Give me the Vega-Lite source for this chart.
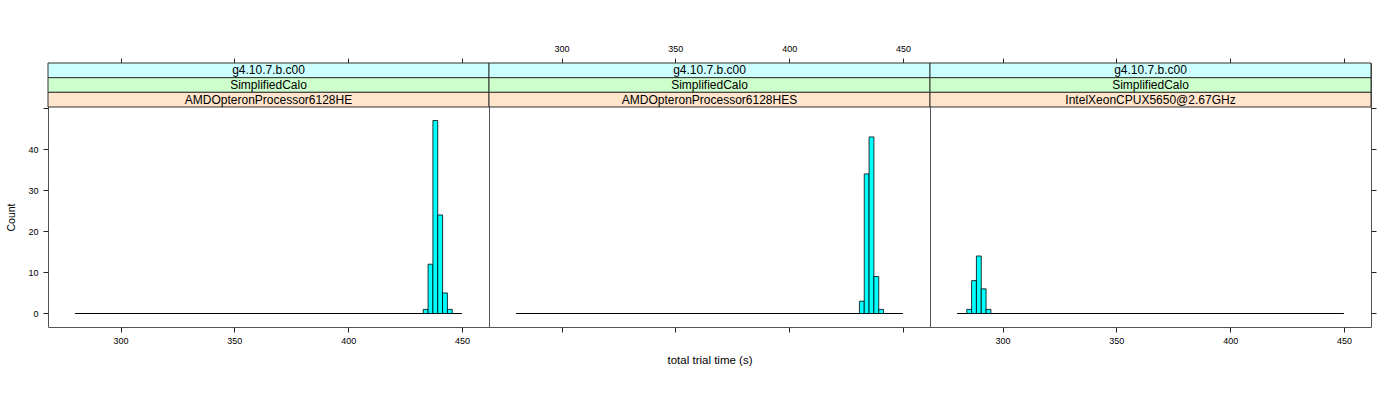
{
  "$schema": "https://vega.github.io/schema/vega-lite/v6.json",
  "padding": {"left": 6, "top": 43, "right": 5, "bottom": 5},
  "background": "white",
  "config": {
    "view": {"stroke": "#555", "strokeWidth": 1},
    "font": "Liberation Sans",
    "axis": {"domain": false, "grid": false, "tickColor": "#222", "tickSize": 5, "labelFont": "Liberation Sans", "labelFontSize": 9, "labelColor": "black", "titleFont": "Liberation Sans", "titleFontWeight": "normal", "titleColor": "black"}
  },
  "datasets": {
    "bins": [
      {"panel": "p1", "start": 433.0, "end": 435.125, "count": 1},
      {"panel": "p1", "start": 435.125, "end": 437.25, "count": 12},
      {"panel": "p1", "start": 437.25, "end": 439.375, "count": 47},
      {"panel": "p1", "start": 439.375, "end": 441.5, "count": 24},
      {"panel": "p1", "start": 441.5, "end": 443.625, "count": 5},
      {"panel": "p1", "start": 443.625, "end": 445.75, "count": 1},
      {"panel": "p2", "start": 430.875, "end": 433.0, "count": 3},
      {"panel": "p2", "start": 433.0, "end": 435.125, "count": 34},
      {"panel": "p2", "start": 435.125, "end": 437.25, "count": 43},
      {"panel": "p2", "start": 437.25, "end": 439.375, "count": 9},
      {"panel": "p2", "start": 439.375, "end": 441.5, "count": 1},
      {"panel": "p3", "start": 284.25, "end": 286.375, "count": 1},
      {"panel": "p3", "start": 286.375, "end": 288.5, "count": 8},
      {"panel": "p3", "start": 288.5, "end": 290.625, "count": 14},
      {"panel": "p3", "start": 290.625, "end": 292.75, "count": 6},
      {"panel": "p3", "start": 292.75, "end": 294.875, "count": 1}
    ],
    "baseline": [
      {"panel": "p1", "xmin": 280, "xmax": 450, "count": 0},
      {"panel": "p2", "xmin": 280, "xmax": 450, "count": 0},
      {"panel": "p3", "xmin": 280, "xmax": 450, "count": 0}
    ],
    "strips": [
      {"panel": "p1", "level": "version", "label": "g4.10.7.b.c00"},
      {"panel": "p1", "level": "test", "label": "SimplifiedCalo"},
      {"panel": "p1", "level": "cpu", "label": "AMDOpteronProcessor6128HE"},
      {"panel": "p2", "level": "version", "label": "g4.10.7.b.c00"},
      {"panel": "p2", "level": "test", "label": "SimplifiedCalo"},
      {"panel": "p2", "level": "cpu", "label": "AMDOpteronProcessor6128HES"},
      {"panel": "p3", "level": "version", "label": "g4.10.7.b.c00"},
      {"panel": "p3", "level": "test", "label": "SimplifiedCalo"},
      {"panel": "p3", "level": "cpu", "label": "IntelXeonCPUX5650@2.67GHz"}
    ]
  },
  "hconcat": [
    {
      "width": 441, "height": 264,
      "layer": [
        {"data": {"name": "strips"}, "transform": [{"filter": "datum.panel == 'p1'"}],
         "mark": {"type": "rect", "stroke": "#333", "strokeWidth": 1},
         "encoding": {
           "y": {"field": "level", "type": "nominal", "sort": ["version", "test", "cpu"], "scale": {"domain": ["version", "test", "cpu"], "range": [0, 44], "paddingInner": 0, "paddingOuter": 0}, "axis": null},
           "fill": {"field": "level", "type": "nominal", "scale": {"domain": ["version", "test", "cpu"], "range": ["#CCFFFF", "#CCFFCC", "#FFE5CC"]}, "legend": null}
         }},
        {"data": {"name": "strips"}, "transform": [{"filter": "datum.panel == 'p1'"}],
         "mark": {"type": "text", "fontSize": 12, "baseline": "middle", "align": "center", "color": "black"},
         "encoding": {
           "y": {"field": "level", "type": "nominal", "sort": ["version", "test", "cpu"], "scale": {"domain": ["version", "test", "cpu"], "range": [0, 44], "paddingInner": 0, "paddingOuter": 0}, "axis": null},
           "text": {"field": "label"}
         }},
        {"data": {"name": "baseline"}, "transform": [{"filter": "datum.panel == 'p1'"}],
         "mark": {"type": "rule", "opacity": 0},
         "encoding": {
           "x": {"field": "xmin", "type": "quantitative", "scale": {"domain": [268.1, 461.9], "nice": false, "zero": false},
                 "axis": {"orient": "top", "values": [300, 350, 400, 450], "labels": false, "title": null}}
         }},
        {"data": {"name": "baseline"}, "transform": [{"filter": "datum.panel == 'p1'"}],
         "mark": {"type": "rule", "color": "black", "strokeWidth": 1.2},
         "encoding": {
           "x": {"field": "xmin", "type": "quantitative", "scale": {"domain": [268.1, 461.9], "nice": false, "zero": false},
                 "axis": {"orient": "bottom", "values": [300, 350, 400, 450], "labelPadding": 4, "title": null}},
           "x2": {"field": "xmax"},
           "y": {"field": "count", "type": "quantitative", "scale": {"domain": [-3.29, 50.29], "range": [264, 44], "nice": false, "zero": false},
                 "axis": {"orient": "left", "values": [0, 10, 20, 30, 40, 50], "labelExpr": "datum.value < 45 ? datum.label : ''", "labelPadding": 5, "title": "Count", "titleFontSize": 10.5, "titlePadding": 11}}
         }},
        {"data": {"name": "bins"}, "transform": [{"filter": "datum.panel == 'p1'"}],
         "mark": {"type": "rect", "fill": "#00FFFF", "stroke": "black", "strokeWidth": 0.8},
         "encoding": {
           "x": {"field": "start", "type": "quantitative", "scale": {"domain": [268.1, 461.9], "nice": false, "zero": false}, "axis": null},
           "x2": {"field": "end"},
           "y": {"field": "count", "type": "quantitative", "scale": {"domain": [-3.29, 50.29], "range": [264, 44], "nice": false, "zero": false}, "axis": null},
           "y2": {"datum": 0}
         }}
      ],
      "resolve": {"scale": {"y": "independent"}, "axis": {"x": "independent", "y": "independent"}}
    },
    {
      "width": 441, "height": 264,
      "layer": [
        {"data": {"name": "strips"}, "transform": [{"filter": "datum.panel == 'p2'"}],
         "mark": {"type": "rect", "stroke": "#333", "strokeWidth": 1},
         "encoding": {
           "y": {"field": "level", "type": "nominal", "sort": ["version", "test", "cpu"], "scale": {"domain": ["version", "test", "cpu"], "range": [0, 44], "paddingInner": 0, "paddingOuter": 0}, "axis": null},
           "fill": {"field": "level", "type": "nominal", "scale": {"domain": ["version", "test", "cpu"], "range": ["#CCFFFF", "#CCFFCC", "#FFE5CC"]}, "legend": null}
         }},
        {"data": {"name": "strips"}, "transform": [{"filter": "datum.panel == 'p2'"}],
         "mark": {"type": "text", "fontSize": 12, "baseline": "middle", "align": "center", "color": "black"},
         "encoding": {
           "y": {"field": "level", "type": "nominal", "sort": ["version", "test", "cpu"], "scale": {"domain": ["version", "test", "cpu"], "range": [0, 44], "paddingInner": 0, "paddingOuter": 0}, "axis": null},
           "text": {"field": "label"}
         }},
        {"data": {"name": "baseline"}, "transform": [{"filter": "datum.panel == 'p2'"}],
         "mark": {"type": "rule", "opacity": 0},
         "encoding": {
           "x": {"field": "xmin", "type": "quantitative", "scale": {"domain": [268.1, 461.9], "nice": false, "zero": false},
                 "axis": {"orient": "top", "values": [300, 350, 400, 450], "labelPadding": 5, "title": null}}
         }},
        {"data": {"name": "baseline"}, "transform": [{"filter": "datum.panel == 'p2'"}],
         "mark": {"type": "rule", "color": "black", "strokeWidth": 1.2},
         "encoding": {
           "x": {"field": "xmin", "type": "quantitative", "scale": {"domain": [268.1, 461.9], "nice": false, "zero": false},
                 "axis": {"orient": "bottom", "values": [300, 350, 400, 450], "labels": false, "title": "total trial time (s)", "titleFontSize": 11.5, "titlePadding": 22}},
           "x2": {"field": "xmax"},
           "y": {"field": "count", "type": "quantitative", "scale": {"domain": [-3.29, 50.29], "range": [264, 44], "nice": false, "zero": false}, "axis": null}
         }},
        {"data": {"name": "bins"}, "transform": [{"filter": "datum.panel == 'p2'"}],
         "mark": {"type": "rect", "fill": "#00FFFF", "stroke": "black", "strokeWidth": 0.8},
         "encoding": {
           "x": {"field": "start", "type": "quantitative", "scale": {"domain": [268.1, 461.9], "nice": false, "zero": false}, "axis": null},
           "x2": {"field": "end"},
           "y": {"field": "count", "type": "quantitative", "scale": {"domain": [-3.29, 50.29], "range": [264, 44], "nice": false, "zero": false}, "axis": null},
           "y2": {"datum": 0}
         }}
      ],
      "resolve": {"scale": {"y": "independent"}, "axis": {"x": "independent", "y": "independent"}}
    },
    {
      "width": 441, "height": 264,
      "layer": [
        {"data": {"name": "strips"}, "transform": [{"filter": "datum.panel == 'p3'"}],
         "mark": {"type": "rect", "stroke": "#333", "strokeWidth": 1},
         "encoding": {
           "y": {"field": "level", "type": "nominal", "sort": ["version", "test", "cpu"], "scale": {"domain": ["version", "test", "cpu"], "range": [0, 44], "paddingInner": 0, "paddingOuter": 0}, "axis": null},
           "fill": {"field": "level", "type": "nominal", "scale": {"domain": ["version", "test", "cpu"], "range": ["#CCFFFF", "#CCFFCC", "#FFE5CC"]}, "legend": null}
         }},
        {"data": {"name": "strips"}, "transform": [{"filter": "datum.panel == 'p3'"}],
         "mark": {"type": "text", "fontSize": 12, "baseline": "middle", "align": "center", "color": "black"},
         "encoding": {
           "y": {"field": "level", "type": "nominal", "sort": ["version", "test", "cpu"], "scale": {"domain": ["version", "test", "cpu"], "range": [0, 44], "paddingInner": 0, "paddingOuter": 0}, "axis": null},
           "text": {"field": "label"}
         }},
        {"data": {"name": "baseline"}, "transform": [{"filter": "datum.panel == 'p3'"}],
         "mark": {"type": "rule", "opacity": 0},
         "encoding": {
           "x": {"field": "xmin", "type": "quantitative", "scale": {"domain": [268.1, 461.9], "nice": false, "zero": false},
                 "axis": {"orient": "top", "values": [300, 350, 400, 450], "labels": false, "title": null}}
         }},
        {"data": {"name": "baseline"}, "transform": [{"filter": "datum.panel == 'p3'"}],
         "mark": {"type": "rule", "color": "black", "strokeWidth": 1.2},
         "encoding": {
           "x": {"field": "xmin", "type": "quantitative", "scale": {"domain": [268.1, 461.9], "nice": false, "zero": false},
                 "axis": {"orient": "bottom", "values": [300, 350, 400, 450], "labelPadding": 4, "title": null}},
           "x2": {"field": "xmax"},
           "y": {"field": "count", "type": "quantitative", "scale": {"domain": [-3.29, 50.29], "range": [264, 44], "nice": false, "zero": false},
                 "axis": {"orient": "right", "values": [0, 10, 20, 30, 40, 50], "labels": false, "title": null}}
         }},
        {"data": {"name": "bins"}, "transform": [{"filter": "datum.panel == 'p3'"}],
         "mark": {"type": "rect", "fill": "#00FFFF", "stroke": "black", "strokeWidth": 0.8},
         "encoding": {
           "x": {"field": "start", "type": "quantitative", "scale": {"domain": [268.1, 461.9], "nice": false, "zero": false}, "axis": null},
           "x2": {"field": "end"},
           "y": {"field": "count", "type": "quantitative", "scale": {"domain": [-3.29, 50.29], "range": [264, 44], "nice": false, "zero": false}, "axis": null},
           "y2": {"datum": 0}
         }}
      ],
      "resolve": {"scale": {"y": "independent"}, "axis": {"x": "independent", "y": "independent"}}
    }
  ],
  "spacing": 0, "bounds": "flush",
  "resolve": {"scale": {"x": "independent", "y": "independent", "fill": "independent"}}
}
